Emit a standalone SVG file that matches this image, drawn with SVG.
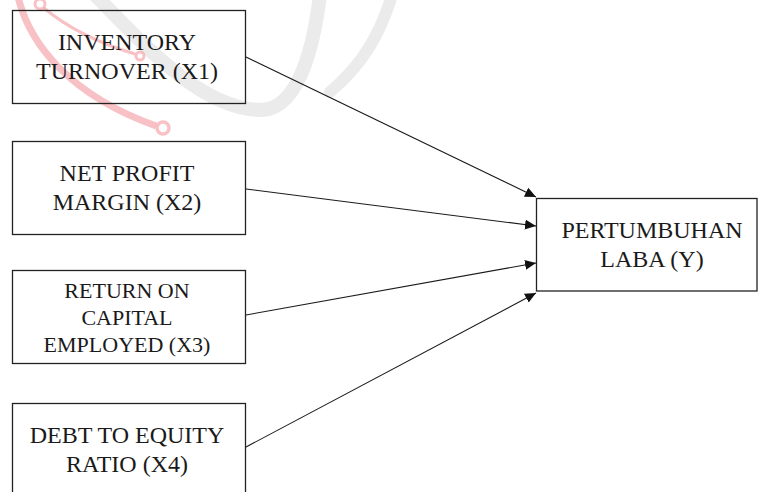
<svg xmlns="http://www.w3.org/2000/svg" width="760" height="492" viewBox="0 0 760 492">
  <style>
    .box { fill: none; stroke: #222; stroke-width: 1.3; }
    text { font-family: 'Liberation Serif', 'Times New Roman', serif; font-size: 24px; fill: #1a1a1a; text-anchor: middle; }
    text.t3 { font-size: 22px; }
    .edge { stroke: #1a1a1a; stroke-width: 1.1; fill: none; marker-end: url(#ah); }
    .wm-red { fill: none; stroke: #f28e96; stroke-opacity: 0.55; }
    .wm-gray { fill: none; stroke: #e4e4e4; stroke-opacity: 0.75; stroke-linecap: round; }
  </style>
  <defs>
    <marker id="ah" markerUnits="userSpaceOnUse" markerWidth="12" markerHeight="10" refX="11" refY="5" orient="auto">
      <path d="M0,0 L11,5 L0,10 Z" fill="#111"/>
    </marker>
  </defs>
  <rect width="760" height="492" fill="#fff"/>

  <g id="watermark">
    <path class="wm-gray" stroke-width="14" d="M 95 -5 C 140 40, 200 110, 262 110 C 295 108, 312 60, 320 -5"/>
    <path class="wm-gray" stroke-width="12" d="M 392 -5 C 380 35, 362 65, 330 92"/>
    <path class="wm-red" stroke-width="7" d="M 18 -3 C 30 45, 70 95, 156 126"/>
    <circle class="wm-red" stroke-width="3.5" cx="163" cy="128" r="6"/>
    <path class="wm-red" stroke-width="3" d="M 44 8 C 70 30, 105 45, 135 54"/>
    <circle class="wm-red" stroke-width="3" cx="40" cy="4" r="5"/>
    <circle class="wm-red" stroke-width="3" cx="140" cy="56" r="4"/>
  </g>

  <g id="edges">
    <line class="edge" x1="246" y1="57" x2="536" y2="197"/>
    <line class="edge" x1="246" y1="189" x2="536" y2="226"/>
    <line class="edge" x1="246" y1="315" x2="536" y2="263"/>
    <line class="edge" x1="246" y1="447" x2="536" y2="293"/>
  </g>

  <g id="x1">
    <rect class="box" x="12.5" y="10.5" width="233" height="93"/>
    <text x="127" y="50">INVENTORY</text>
    <text x="127" y="79">TURNOVER (X1)</text>
  </g>
  <g id="x2">
    <rect class="box" x="12.5" y="141.5" width="233" height="93"/>
    <text x="127" y="181">NET PROFIT</text>
    <text x="127" y="210">MARGIN (X2)</text>
  </g>
  <g id="x3">
    <rect class="box" x="12.5" y="270.5" width="233" height="93"/>
    <text class="t3" x="127" y="298">RETURN ON</text>
    <text class="t3" x="127" y="325">CAPITAL</text>
    <text class="t3" x="127" y="352">EMPLOYED (X3)</text>
  </g>
  <g id="x4">
    <rect class="box" x="12.5" y="403.5" width="233" height="93"/>
    <text x="127" y="443">DEBT TO EQUITY</text>
    <text x="127" y="472">RATIO (X4)</text>
  </g>
  <g id="y">
    <rect class="box" x="536.5" y="198.5" width="220.5" height="92.5"/>
    <text x="652" y="238">PERTUMBUHAN</text>
    <text x="652" y="267">LABA (Y)</text>
  </g>
</svg>
